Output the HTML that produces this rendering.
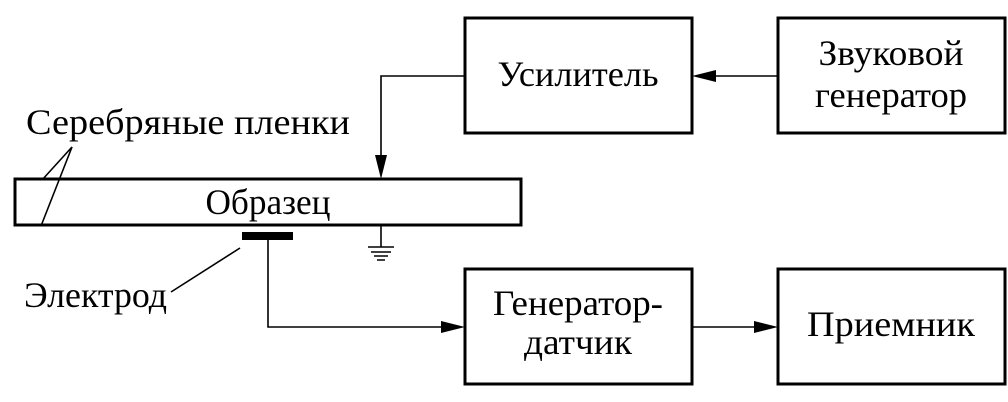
<!DOCTYPE html>
<html><head><meta charset="utf-8"><style>
html,body{margin:0;padding:0;background:#fff;}
svg{display:block;}
text{font-family:"Liberation Serif",serif;fill:#000;}
</style></head><body>
<svg width="1008" height="402" viewBox="0 0 1008 402" xmlns="http://www.w3.org/2000/svg">
<g fill="none" stroke="#000" stroke-width="3">
<rect x="465" y="18" width="227" height="115"/>
<rect x="778" y="18" width="227" height="115"/>
<rect x="465" y="269" width="227" height="115"/>
<rect x="778" y="269" width="227" height="115"/>
<rect x="15" y="179" width="506" height="46"/>
</g>
<g fill="none" stroke="#000" stroke-width="1.6">
<path d="M778 76 H700"/>
<path d="M465 76 H381 V170"/>
<path d="M268 240 V327 H455"/>
<path d="M692 327 H768"/>
<path d="M381 225 V247"/>
<path d="M368 247 H394 M371 252 H391 M374 256 H388 M377 260 H385"/>
<path d="M42 180 L72 147 L41 226"/>
<path d="M240 248 L171 292"/>
</g>
<g fill="#000">
<polygon points="692,76 716,70 716,82"/>
<polygon points="381,179 375,155 387,155"/>
<polygon points="465,327 441,321 441,333"/>
<polygon points="778,327 754,321 754,333"/>
<rect x="242" y="232" width="51" height="8"/>
</g>
<g font-size="36">
<text x="578" y="86" text-anchor="middle" textLength="161" lengthAdjust="spacingAndGlyphs">Усилитель</text>
<text x="891" y="65" text-anchor="middle" textLength="145" lengthAdjust="spacingAndGlyphs">Звуковой</text>
<text x="891" y="107" text-anchor="middle" textLength="152" lengthAdjust="spacingAndGlyphs">генератор</text>
<text x="578" y="315" text-anchor="middle" textLength="170" lengthAdjust="spacingAndGlyphs">Генератор-</text>
<text x="578" y="354" text-anchor="middle" textLength="108" lengthAdjust="spacingAndGlyphs">датчик</text>
<text x="891" y="336" text-anchor="middle" textLength="168" lengthAdjust="spacingAndGlyphs">Приемник</text>
<text x="268" y="214" text-anchor="middle" textLength="125" lengthAdjust="spacingAndGlyphs">Образец</text>
<text x="26" y="134" textLength="324" lengthAdjust="spacingAndGlyphs">Серебряные пленки</text>
<text x="24" y="307" textLength="143" lengthAdjust="spacingAndGlyphs">Электрод</text>
</g>
</svg>
</body></html>
